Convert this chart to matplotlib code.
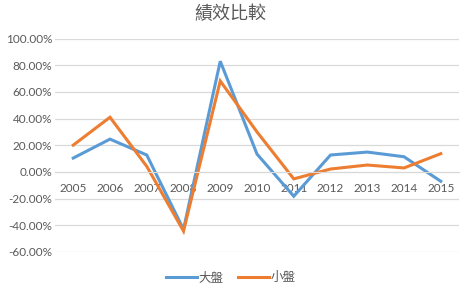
import matplotlib.pyplot as plt
from matplotlib.ticker import FuncFormatter

plt.rcParams['font.family'] = ['Lato', 'Noto Sans CJK TC', 'DejaVu Sans']

years = ["2005", "2006", "2007", "2008", "2009", "2010",
         "2011", "2012", "2013", "2014", "2015"]
large_cap = [10.4, 24.6, 12.7, -43.0, 83.0, 13.4, -18.2, 12.7, 14.9, 11.4, -7.0]
small_cap = [20.1, 41.0, 4.2, -44.3, 68.2, 30.0, -5.2, 2.2, 5.2, 3.0, 13.7]

text_color = "#595959"
grid_color = "#D9D9D9"

fig = plt.figure(figsize=(4.61, 2.92), dpi=100)
ax = fig.add_axes([0.119, 0.137, 0.877, 0.731])

x = list(range(len(years)))
ax.plot(x, large_cap, color="#5B9BD5", linewidth=2.2, label="大盤",
        solid_joinstyle="miter")
ax.plot(x, small_cap, color="#ED7D31", linewidth=2.2, label="小盤",
        solid_joinstyle="miter")

ax.set_xlim(-0.5, len(years) - 0.5)
ax.set_ylim(-60, 100)
ax.set_yticks(range(-60, 101, 20))
ax.yaxis.set_major_formatter(FuncFormatter(lambda v, p: f"{v:.2f}%"))
ax.grid(axis="y", color=grid_color, linewidth=0.9)
ax.set_axisbelow(True)

# category labels sit just under the zero line
ax.set_xticks(x)
ax.set_xticklabels(years)
ax.spines["bottom"].set_position(("data", 0))
ax.spines["bottom"].set_color(grid_color)
for s in ["top", "right", "left"]:
    ax.spines[s].set_visible(False)
ax.tick_params(axis="both", length=0, colors=text_color, labelsize=8.5)
ax.tick_params(axis="x", pad=8)
ax.tick_params(axis="y", pad=2)

fig.suptitle("績效比較", x=0.5, y=0.985, fontsize=13, color=text_color)

fig.legend(loc="center", bbox_to_anchor=(0.5, 0.05), ncol=2, frameon=False,
           fontsize=9, handlelength=2.5, handletextpad=0.1, columnspacing=1.2,
           labelcolor=text_color)

fig.savefig("out.png", dpi=100)
